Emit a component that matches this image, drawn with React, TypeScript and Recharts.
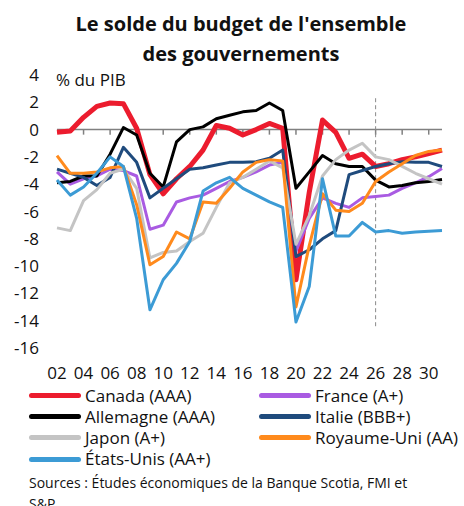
import { LineChart, Line, XAxis, YAxis, ReferenceLine } from "recharts";

const years = [
  2002, 2003, 2004, 2005, 2006, 2007, 2008, 2009, 2010, 2011,
  2012, 2013, 2014, 2015, 2016, 2017, 2018, 2019, 2020, 2021,
  2022, 2023, 2024, 2025, 2026, 2027, 2028, 2029, 2030, 2031,
];

const canada = [
  -0.2, -0.1, 0.9, 1.7, 1.95, 1.9, 0.1, -3.3, -4.7, -3.6,
  -2.7, -1.5, 0.3, 0.1, -0.4, 0.0, 0.45, 0.1, -11.0, -4.6,
  0.7, -0.2, -2.1, -1.8, -2.7, -2.5, -2.2, -2.0, -1.75, -1.5,
];
const france = [
  -3.1, -4.0, -3.6, -3.4, -2.9, -3.0, -3.4, -7.3, -7.0, -5.3,
  -5.0, -4.8, -4.3, -3.8, -3.5, -3.1, -2.6, -2.4, -8.9, -6.5,
  -5.0, -5.4, -5.7, -5.0, -4.9, -4.8, -4.3, -3.9, -3.45, -2.85,
];
const allemagne = [
  -3.9, -3.8, -3.4, -3.4, -1.8, 0.15, -0.4, -3.2, -4.2, -0.9,
  0.0, 0.2, 0.8, 1.05, 1.3, 1.4, 1.95, 1.4, -4.3, -3.1,
  -1.9, -2.5, -2.7, -2.7, -3.7, -4.2, -4.1, -3.9, -3.8, -3.65,
];
const italie = [
  -2.9, -3.2, -3.5, -4.1, -3.5, -1.3, -2.4, -5.0, -4.3, -3.6,
  -2.9, -2.8, -2.6, -2.4, -2.4, -2.35, -2.1, -1.5, -9.3, -8.8,
  -8.0, -7.4, -3.3, -3.0, -2.7, -2.5, -2.35, -2.4, -2.4, -2.7,
];
const japon = [
  -7.2, -7.4, -5.2, -4.4, -3.2, -2.9, -4.3, -9.4, -9.0, -8.9,
  -8.2, -7.6, -5.7, -3.9, -3.5, -2.9, -2.3, -2.8, -8.4, -6.3,
  -3.4, -2.2, -1.5, -1.0, -2.0, -2.2, -2.7, -3.2, -3.6, -4.0,
];
const royaumeUni = [
  -1.9, -3.2, -3.2, -3.1, -2.8, -2.7, -5.5, -9.9, -9.3, -7.5,
  -8.0, -5.3, -5.4, -4.3, -3.1, -2.4, -2.2, -2.3, -13.0, -8.5,
  -4.7, -5.9, -6.0, -5.4, -3.8, -3.1, -2.5, -1.9, -1.6, -1.5,
];
const etatsUnis = [
  -3.7, -4.8, -4.2, -3.2, -2.0, -2.7, -6.5, -13.2, -11.0, -9.8,
  -8.2, -4.5, -3.9, -3.5, -4.3, -4.8, -5.3, -5.7, -14.1, -11.5,
  -3.6, -7.8, -7.8, -6.8, -7.5, -7.4, -7.6, -7.5, -7.45, -7.4,
];

const xTicks = [
  2002, 2004, 2006, 2008, 2010, 2012, 2014, 2016,
  2018, 2020, 2022, 2024, 2026, 2028, 2030,
];
const yTicks = [4, 2, 0, -2, -4, -6, -8, -10, -12, -14, -16];
const forecastStart = 2026;

const series = [
  { key: "canada", name: "Canada (AAA)", color: "#ec1c2e", width: 5 },
  { key: "france", name: "France (A+)", color: "#a95be2", width: 3 },
  { key: "allemagne", name: "Allemagne (AAA)", color: "#000000", width: 3 },
  { key: "italie", name: "Italie (BBB+)", color: "#1f4b7d", width: 3 },
  { key: "japon", name: "Japon (A+)", color: "#c4c4c4", width: 3 },
  { key: "royaumeUni", name: "Royaume-Uni (AA)", color: "#ff8a1c", width: 3 },
  { key: "etatsUnis", name: "États-Unis (AA+)", color: "#3c9bd5", width: 3 },
];

const data = years.map((year, i) => ({
  year,
  canada: canada[i],
  france: france[i],
  allemagne: allemagne[i],
  italie: italie[i],
  japon: japon[i],
  royaumeUni: royaumeUni[i],
  etatsUnis: etatsUnis[i],
}));

const font = "'Open Sans', sans-serif";

export default function App() {
  return (
    <div
      style={{
        position: "absolute",
        left: 0,
        top: 0,
        width: 464,
        height: 506,
        overflow: "hidden",
        background: "#fff",
        fontFamily: font,
        color: "#111",
      }}
    >
      {/* Title */}
      <div
        style={{
          position: "absolute",
          left: 9,
          top: 9,
          width: 464,
          textAlign: "center",
          fontWeight: 700,
          fontSize: 20,
          lineHeight: "30px",
        }}
      >
        Le solde du budget de l'ensemble
        <br />
        des gouvernements
      </div>

      <div
        style={{
          position: "absolute",
          left: 56,
          top: 69,
          fontSize: 17,
          lineHeight: "22px",
        }}
      >
        % du PIB
      </div>

      <div style={{ position: "absolute", left: 0, top: 0 }}>
        <LineChart
          width={464}
          height={400}
          data={data}
          margin={{ top: 75, right: 22, left: 17, bottom: 22 }}
        >
          <XAxis
            dataKey="year"
            type="number"
            domain={[2002, 2031]}
            ticks={xTicks}
            tickFormatter={(v: number) => String(v).slice(2)}
            axisLine={false}
            tickLine={false}
            tickSize={0}
            tickMargin={19}
            interval={0}
            tick={{ fill: "#111", fontSize: 17, fontFamily: font }}
          />
          <YAxis
            domain={[-16, 4]}
            ticks={yTicks}
            width={40}
            axisLine={false}
            tickLine={false}
            tickSize={0}
            tickMargin={18}
            interval={0}
            tick={{ fill: "#111", fontSize: 17, fontFamily: font }}
          />

          {/* zero line with small tick marks */}
          <ReferenceLine y={0} stroke="#808080" strokeWidth={1.5} />
          {xTicks.slice(1).map((t) => (
            <ReferenceLine
              key={t}
              segment={[
                { x: t, y: 0 },
                { x: t, y: -0.37 },
              ]}
              stroke="#808080"
              strokeWidth={1.5}
            />
          ))}

          {/* forecast marker */}
          <ReferenceLine
            segment={[
              { x: forecastStart, y: 2.3 },
              { x: forecastStart, y: -14.6 },
            ]}
            stroke="#8a8a8a"
            strokeWidth={1}
            strokeDasharray="4 3"
          />

          {series.map((s) => (
            <Line
              key={s.key}
              type="linear"
              dataKey={s.key}
              name={s.name}
              stroke={s.color}
              strokeWidth={s.width}
              strokeLinejoin="round"
              dot={false}
              activeDot={false}
              isAnimationActive={false}
            />
          ))}
        </LineChart>
      </div>

      {/* Legend */}
      <div
        style={{
          position: "absolute",
          left: 29,
          top: 385,
          width: 440,
          display: "grid",
          gridTemplateColumns: "230px 210px",
          gridAutoRows: "21.2px",
          fontSize: 17,
          lineHeight: "16px",
        }}
      >
        {series.map((s) => (
          <div
            key={s.key}
            style={{ display: "flex", alignItems: "center", whiteSpace: "nowrap" }}
          >
            <span
              style={{
                display: "inline-block",
                width: 52,
                height: 5,
                borderRadius: 3,
                background: s.color,
                marginRight: 4,
              }}
            />
            <span>{s.name}</span>
          </div>
        ))}
      </div>

      {/* Sources */}
      <div
        style={{
          position: "absolute",
          left: 29,
          top: 472,
          fontSize: 14,
          lineHeight: "21px",
          whiteSpace: "nowrap",
        }}
      >
        Sources : Études économiques de la Banque Scotia, FMI et
        <br />
        S&amp;P.
      </div>
    </div>
  );
}
